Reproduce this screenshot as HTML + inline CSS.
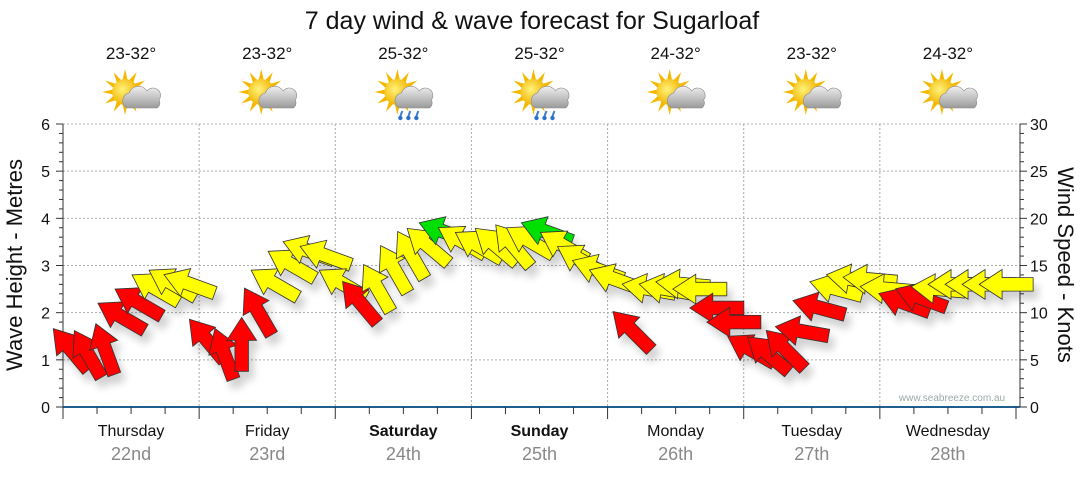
<!DOCTYPE html>
<html><head><meta charset="utf-8"><style>
body{margin:0;background:#fff;}
svg text{font-family:"Liberation Sans",sans-serif;}
</style></head><body>
<svg id="chart" width="1080" height="475" viewBox="0 0 1080 475">
<defs>
<radialGradient id="sunG" cx="0.4" cy="0.4" r="0.6"><stop offset="0" stop-color="#fff27a"/><stop offset="1" stop-color="#f2b400"/></radialGradient>
<linearGradient id="cloudG" x1="0" y1="0" x2="0" y2="1"><stop offset="0" stop-color="#f0f0f0"/><stop offset="1" stop-color="#9a9a9a"/></linearGradient>
<filter id="sh" x="-50%" y="-50%" width="200%" height="200%"><feGaussianBlur in="SourceAlpha" stdDeviation="4"/><feOffset dx="5" dy="8"/><feComponentTransfer><feFuncA type="linear" slope="0.18"/></feComponentTransfer><feMerge><feMergeNode/><feMergeNode in="SourceGraphic"/></feMerge></filter>
</defs>
<text x="532" y="29" font-size="25" text-anchor="middle" fill="#111">7 day wind &amp; wave forecast for Sugarloaf</text>
<g id="grid"></g>
<g id="axes"></g>
<g id="icons"></g>
<g id="arrows" filter="url(#sh)"></g>
<text x="952" y="401" font-size="10" text-anchor="middle" fill="#9aa">www.seabreeze.com.au</text>
<text transform="translate(22,265) rotate(-90)" font-size="22" text-anchor="middle" fill="#111">Wave Height - Metres</text>
<text transform="translate(1058,265) rotate(90)" font-size="22" text-anchor="middle" fill="#111">Wind Speed - Knots</text>
</svg>
<script>
const days=["Thursday","Friday","Saturday","Sunday","Monday","Tuesday","Wednesday"];
const dates=["22nd","23rd","24th","25th","26th","27th","28th"];
const temps=["23-32°","23-32°","25-32°","25-32°","24-32°","23-32°","24-32°"];
const rainy=[false,false,true,true,false,false,false];
const waveTicks=[0,1,2,3,4,5,6];
const windTicks=[0,5,10,15,20,25,30];
const windSpeed=[6,5.5,6,9.5,11,12.5,13,13, 7,5.5,6.5,10,13,15,16.5,16, 13,11,12.5,14.5,16,17,18.5,17.5, 17,17,17,17.5,18.5,17,15.5,14.5, 13.5,8,12.5,12.5,13,12.5,10.5,9, 6,5.5,6,8,10.5,12.5,13.5,13.5, 12.5,11,11.5,12.5,13,13,13,13];
const windDir=[320,330,340,300,300,300,300,290, 320,340,0,330,300,300,290,290, 300,320,330,330,330,310,290,300, 300,310,320,300,290,300,300,290, 290,315,280,280,275,270,270,270, 300,310,315,280,285,285,280,275, 275,290,290,275,270,270,270,270];
const NS="http://www.w3.org/2000/svg";
const X0=63,X1=1016,Y0=407,Y1=124;
const dayW=(X1-X0)/7;
const xT=t=>X0+t*dayW/8;
const yWave=v=>Y0-(v/6)*(Y0-Y1);
const yWind=v=>Y0-(v/30)*(Y0-Y1);
function mk(tag,attrs,parent){const e=document.createElementNS(NS,tag);for(const k in attrs)e.setAttribute(k,attrs[k]);parent.appendChild(e);return e;}
const grid=document.getElementById('grid'),axes=document.getElementById('axes'),icons=document.getElementById('icons'),arrows=document.getElementById('arrows');
waveTicks.forEach(v=>{if(v>0){const l=mk('line',{x1:X0,x2:1020,y1:yWave(v),y2:yWave(v),stroke:'#aaa','stroke-dasharray':'2,2'},grid);

}});
for(let d=1;d<7;d++){const l=mk('line',{x1:X0+d*dayW,x2:X0+d*dayW,y1:Y1,y2:Y0,stroke:'#aaa','stroke-dasharray':'2,2'},grid);

}
mk('line',{x1:X0,x2:X0,y1:Y1,y2:Y0,stroke:'#333'},axes);
mk('line',{x1:1020,x2:1020,y1:Y1,y2:Y0,stroke:'#333'},axes);
mk('line',{x1:X0,x2:1020,y1:Y0,y2:Y0,stroke:'#1f5f8f','stroke-width':2},axes);
for(let i=0;i<=30;i++){const y=yWave(i*0.2);mk('line',{x1:X0-(i%5==0?7:4),x2:X0,y1:y,y2:y,stroke:'#333'},axes);}
for(let i=0;i<=30;i++){const y=yWind(i);mk('line',{x1:1020,x2:1020+(i%5==0?7:4),y1:y,y2:y,stroke:'#333'},axes);}
for(let t=0;t<=28;t++){const x=X0+t*dayW/4;mk('line',{x1:x,x2:x,y1:Y0,y2:Y0+(t%4==0?12:7),stroke:'#333'},axes);}
waveTicks.forEach(v=>{const t=mk('text',{x:50,y:yWave(v)+6,'font-size':16,'text-anchor':'end',fill:'#111'},axes);t.textContent=v;

});
windTicks.forEach(v=>{const t=mk('text',{x:1030,y:yWind(v)+6,'font-size':16,'text-anchor':'start',fill:'#111'},axes);t.textContent=v;

});
days.forEach((d,i)=>{const cx=X0+(i+0.5)*dayW;
const t=mk('text',{x:cx,y:436,'font-size':16,'text-anchor':'middle',fill:'#111','font-weight':(i==2||i==3)?'bold':'normal'},axes);t.textContent=d;


const t2=mk('text',{x:cx,y:460,'font-size':18,'text-anchor':'middle',fill:'#888'},axes);t2.textContent=dates[i];


const t3=mk('text',{x:cx,y:59,'font-size':17,'text-anchor':'middle',fill:'#111'},icons);t3.textContent=temps[i];


const g=mk('g',{transform:`translate(${cx},96)`},icons);


for(let r=0;r<12;r++){const a=r*30;mk('polygon',{points:'-2.5,-12 2.5,-12 0,-23',fill:'#f5b800',transform:`translate(-6,-4) rotate(${a})`},g);}
mk('circle',{cx:-6,cy:-4,r:13,fill:'url(#sunG)'},g);
mk('path',{d:'M-4,12 a8,8 0 0 1 2,-15 a10,10 0 0 1 18,-2 a7,7 0 0 1 12,9 a6,6 0 0 1 -2,8 z',fill:'url(#cloudG)',stroke:'#888','stroke-width':0.6},g);
if(rainy[i]){[-2,6,14].forEach(dx=>{mk('line',{x1:dx+1,y1:15,x2:dx-1,y2:20,stroke:'#3a7fd0','stroke-width':2},g);mk('circle',{cx:dx-1,cy:22,r:2.2,fill:'#2a6fc8'},g);});}
});
const arrowPts='0,-21 11,-4 5,-4 5,19 -5,19 -5,-4 -11,-4';
windSpeed.forEach((s,i)=>{
const col=s>=18?'#00e000':(s>=12?'#ffff00':'#ff0000');
const x=xT(i+0.5),y=yWind(s);
const p=mk('polygon',{points:arrowPts,fill:col,stroke:'#333','stroke-width':0.6,transform:`translate(${x},${y}) rotate(${windDir[i]}) scale(1.35)`},arrows);


});
</script>
</body></html>
